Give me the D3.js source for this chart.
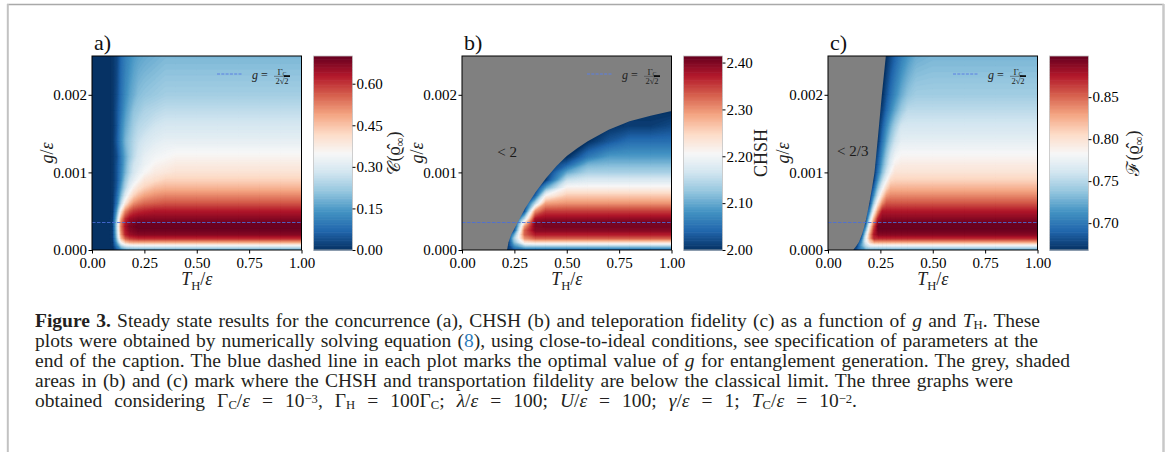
<!DOCTYPE html>
<html>
<head>
<meta charset="utf-8">
<script src="https://cdn.jsdelivr.net/npm/d3@7/dist/d3.min.js"></script>
<style>
  body { margin: 0; background: #fff; }
</style>
</head>
<body>
<svg id="SVG_CONTAINER" width="1167" height="452"></svg>
<script>
const _ = null; // cell below the classical limit (drawn grey)

// rows of every grid: g / eps
const gRows = [0, 0.00005, 0.0001, 0.00015, 0.0002, 0.00025, 0.0003, 0.00035, 0.0004, 0.0005, 0.0006,
               0.0007, 0.0008, 0.0009, 0.001, 0.0011, 0.0012, 0.0014, 0.0016, 0.0018, 0.002, 0.0025];

// a) concurrence, columns T_H / eps
const concT = [0, 0.05, 0.08, 0.10, 0.12, 0.14, 0.16, 0.18, 0.20, 0.22, 0.25, 0.30, 0.35, 0.40, 0.50, 0.60, 0.70, 0.80, 0.90, 1.00];
const concValues = [
  [0, 0, 0, 0,    0.05, 0.11, 0.14, 0.15, 0.15, 0.15, 0.15, 0.15, 0.15, 0.15, 0.15, 0.15, 0.15, 0.15, 0.15, 0.15],
  [0, 0, 0, 0.01, 0.11, 0.23, 0.28, 0.29, 0.30, 0.30, 0.30, 0.30, 0.30, 0.30, 0.30, 0.30, 0.30, 0.30, 0.30, 0.30],
  [0, 0, 0, 0.01, 0.17, 0.36, 0.44, 0.47, 0.48, 0.48, 0.48, 0.48, 0.48, 0.48, 0.48, 0.48, 0.48, 0.48, 0.48, 0.48],
  [0, 0, 0, 0.02, 0.21, 0.46, 0.56, 0.59, 0.60, 0.61, 0.61, 0.61, 0.61, 0.61, 0.61, 0.61, 0.61, 0.61, 0.61, 0.61],
  [0, 0, 0, 0.02, 0.23, 0.50, 0.62, 0.65, 0.66, 0.67, 0.67, 0.67, 0.67, 0.67, 0.67, 0.67, 0.67, 0.67, 0.67, 0.67],
  [0, 0, 0, 0.02, 0.24, 0.52, 0.63, 0.67, 0.68, 0.69, 0.69, 0.69, 0.69, 0.69, 0.69, 0.69, 0.69, 0.69, 0.69, 0.69],
  [0, 0, 0, 0.02, 0.25, 0.53, 0.64, 0.68, 0.69, 0.70, 0.70, 0.70, 0.70, 0.70, 0.70, 0.70, 0.70, 0.70, 0.70, 0.70],
  [0, 0, 0, 0.02, 0.24, 0.52, 0.63, 0.67, 0.68, 0.69, 0.69, 0.69, 0.69, 0.69, 0.69, 0.69, 0.69, 0.69, 0.69, 0.69],
  [0, 0, 0, 0.02, 0.22, 0.49, 0.61, 0.65, 0.66, 0.67, 0.67, 0.67, 0.67, 0.67, 0.67, 0.67, 0.67, 0.67, 0.67, 0.67],
  [0, 0, 0, 0.01, 0.16, 0.38, 0.52, 0.57, 0.60, 0.61, 0.62, 0.63, 0.63, 0.63, 0.63, 0.63, 0.63, 0.63, 0.63, 0.63],
  [0, 0, 0, 0.01, 0.10, 0.26, 0.39, 0.46, 0.51, 0.53, 0.55, 0.56, 0.57, 0.57, 0.57, 0.57, 0.57, 0.57, 0.57, 0.57],
  [0, 0, 0, 0.01, 0.08, 0.20, 0.31, 0.38, 0.43, 0.46, 0.49, 0.51, 0.52, 0.52, 0.52, 0.52, 0.52, 0.52, 0.52, 0.52],
  [0, 0, 0, 0.01, 0.06, 0.16, 0.25, 0.32, 0.37, 0.40, 0.43, 0.46, 0.47, 0.47, 0.47, 0.47, 0.47, 0.47, 0.47, 0.47],
  [0, 0, 0, 0.01, 0.05, 0.13, 0.22, 0.28, 0.32, 0.35, 0.39, 0.41, 0.43, 0.43, 0.43, 0.43, 0.43, 0.43, 0.43, 0.43],
  [0, 0, 0, 0.01, 0.05, 0.12, 0.19, 0.25, 0.29, 0.32, 0.35, 0.38, 0.39, 0.40, 0.40, 0.40, 0.40, 0.40, 0.40, 0.40],
  [0, 0, 0, 0.01, 0.05, 0.11, 0.18, 0.24, 0.28, 0.30, 0.33, 0.36, 0.37, 0.38, 0.38, 0.38, 0.38, 0.38, 0.38, 0.38],
  [0, 0, 0, 0.01, 0.04, 0.11, 0.17, 0.22, 0.26, 0.29, 0.32, 0.34, 0.35, 0.36, 0.36, 0.36, 0.36, 0.36, 0.36, 0.36],
  [0, 0, 0, 0.01, 0.06, 0.13, 0.19, 0.22, 0.25, 0.27, 0.29, 0.31, 0.32, 0.32, 0.32, 0.32, 0.32, 0.32, 0.32, 0.32],
  [0, 0, 0, 0.01, 0.05, 0.12, 0.17, 0.20, 0.23, 0.25, 0.26, 0.28, 0.29, 0.29, 0.29, 0.29, 0.29, 0.29, 0.29, 0.29],
  [0, 0, 0, 0.01, 0.05, 0.10, 0.15, 0.18, 0.21, 0.22, 0.24, 0.25, 0.26, 0.26, 0.26, 0.26, 0.26, 0.26, 0.26, 0.26],
  [0, 0, 0, 0.01, 0.04, 0.09, 0.13, 0.16, 0.18, 0.20, 0.21, 0.22, 0.23, 0.23, 0.23, 0.23, 0.23, 0.23, 0.23, 0.23],
  [0, 0, 0, 0.01, 0.03, 0.08, 0.11, 0.13, 0.15, 0.16, 0.17, 0.18, 0.19, 0.19, 0.19, 0.19, 0.19, 0.19, 0.19, 0.19]
];

// b) CHSH
const chshT = [0, 0.05, 0.08, 0.10, 0.12, 0.14, 0.16, 0.18, 0.20, 0.22, 0.25, 0.30, 0.35, 0.40, 0.50, 0.60, 0.70, 0.80, 0.90, 1.00];
const chshValues = [
  [_, _, _, _, _, _, _, _, _, 2.01, 2.03, 2.04, 2.04, 2.04, 2.04, 2.04, 2.04, 2.04, 2.04, 2.04],
  [_, _, _, _, _, _, _, _, _, 2.01, 2.08, 2.13, 2.13, 2.13, 2.13, 2.13, 2.13, 2.13, 2.13, 2.13],
  [_, _, _, _, _, _, _, _, _, _, 2.12, 2.23, 2.24, 2.24, 2.24, 2.24, 2.24, 2.24, 2.24, 2.24],
  [_, _, _, _, _, _, _, _, _, _, 2.14, 2.30, 2.33, 2.33, 2.33, 2.33, 2.33, 2.33, 2.33, 2.33],
  [_, _, _, _, _, _, _, _, _, _, 2.10, 2.33, 2.37, 2.37, 2.37, 2.37, 2.37, 2.37, 2.37, 2.37],
  [_, _, _, _, _, _, _, _, _, _, 2.03, 2.33, 2.395, 2.395, 2.395, 2.395, 2.395, 2.395, 2.395, 2.395],
  [_, _, _, _, _, _, _, _, _, _, _, 2.30, 2.40, 2.405, 2.405, 2.405, 2.405, 2.405, 2.405, 2.405],
  [_, _, _, _, _, _, _, _, _, _, _, 2.24, 2.40, 2.405, 2.405, 2.405, 2.405, 2.405, 2.405, 2.405],
  [_, _, _, _, _, _, _, _, _, _, _, 2.16, 2.38, 2.39, 2.39, 2.39, 2.39, 2.39, 2.39, 2.39],
  [_, _, _, _, _, _, _, _, _, _, _, 2.03, 2.30, 2.35, 2.35, 2.35, 2.35, 2.35, 2.35, 2.35],
  [_, _, _, _, _, _, _, _, _, _, _, _, 2.15, 2.29, 2.30, 2.30, 2.30, 2.30, 2.30, 2.30],
  [_, _, _, _, _, _, _, _, _, _, _, _, 2.04, 2.21, 2.26, 2.26, 2.26, 2.26, 2.26, 2.26],
  [_, _, _, _, _, _, _, _, _, _, _, _, _, 2.10, 2.215, 2.215, 2.215, 2.215, 2.215, 2.215],
  [_, _, _, _, _, _, _, _, _, _, _, _, _, 2.01, 2.16, 2.175, 2.175, 2.175, 2.175, 2.175],
  [_, _, _, _, _, _, _, _, _, _, _, _, _, _, 2.10, 2.14, 2.14, 2.14, 2.14, 2.14],
  [_, _, _, _, _, _, _, _, _, _, _, _, _, _, 2.04, 2.11, 2.115, 2.115, 2.115, 2.115],
  [_, _, _, _, _, _, _, _, _, _, _, _, _, _, 2.00, 2.06, 2.09, 2.09, 2.09, 2.09],
  [_, _, _, _, _, _, _, _, _, _, _, _, _, _, _, 2.00, 2.03, 2.05, 2.05, 2.05],
  [_, _, _, _, _, _, _, _, _, _, _, _, _, _, _, _, _, 2.01, 2.01, 2.02],
  [_, _, _, _, _, _, _, _, _, _, _, _, _, _, _, _, _, _, _, _],
  [_, _, _, _, _, _, _, _, _, _, _, _, _, _, _, _, _, _, _, _],
  [_, _, _, _, _, _, _, _, _, _, _, _, _, _, _, _, _, _, _, _]
];
const chshLimitT = [0.215, 0.222, 0.235, 0.255, 0.28, 0.30, 0.35, 0.40, 0.45, 0.50, 0.55, 0.60, 0.70, 0.80, 0.90, 1.00];
const chshLimitG = [0, 0.0001, 0.0002, 0.0003, 0.00043, 0.00053, 0.00074, 0.00092, 0.00108, 0.00121, 0.00131, 0.0014, 0.00155, 0.00166, 0.00173, 0.00179];

// c) teleportation fidelity
const fidT = [0, 0.10, 0.12, 0.14, 0.16, 0.18, 0.20, 0.22, 0.24, 0.26, 0.28, 0.30, 0.32, 0.35, 0.38, 0.42, 0.50, 0.65, 0.80, 1.00];
const fidValues = [
  [_, _, 0.667, 0.689, 0.706, 0.717, 0.717, 0.717, 0.717, 0.717, 0.717, 0.717, 0.717, 0.717, 0.717, 0.717, 0.717, 0.717, 0.717, 0.717],
  [_, _, _, 0.679, 0.72, 0.75, 0.766, 0.766, 0.766, 0.766, 0.766, 0.766, 0.766, 0.766, 0.766, 0.766, 0.766, 0.766, 0.766, 0.766],
  [_, _, _, _, 0.711, 0.768, 0.808, 0.826, 0.826, 0.826, 0.826, 0.826, 0.826, 0.826, 0.826, 0.826, 0.826, 0.826, 0.826, 0.826],
  [_, _, _, _, 0.69, 0.768, 0.828, 0.869, 0.869, 0.869, 0.869, 0.869, 0.869, 0.869, 0.869, 0.869, 0.869, 0.869, 0.869, 0.869],
  [_, _, _, _, _, 0.751, 0.824, 0.876, 0.889, 0.889, 0.889, 0.889, 0.889, 0.889, 0.889, 0.889, 0.889, 0.889, 0.889, 0.889],
  [_, _, _, _, _, 0.726, 0.808, 0.868, 0.896, 0.896, 0.896, 0.896, 0.896, 0.896, 0.896, 0.896, 0.896, 0.896, 0.896, 0.896],
  [_, _, _, _, _, 0.703, 0.791, 0.858, 0.899, 0.899, 0.899, 0.899, 0.899, 0.899, 0.899, 0.899, 0.899, 0.899, 0.899, 0.899],
  [_, _, _, _, _, 0.677, 0.77, 0.841, 0.89, 0.896, 0.896, 0.896, 0.896, 0.896, 0.896, 0.896, 0.896, 0.896, 0.896, 0.896],
  [_, _, _, _, _, _, 0.75, 0.824, 0.875, 0.889, 0.889, 0.889, 0.889, 0.889, 0.889, 0.889, 0.889, 0.889, 0.889, 0.889],
  [_, _, _, _, _, _, 0.71, 0.782, 0.837, 0.876, 0.876, 0.876, 0.876, 0.876, 0.876, 0.876, 0.876, 0.876, 0.876, 0.876],
  [_, _, _, _, _, _, 0.678, 0.745, 0.798, 0.838, 0.856, 0.856, 0.856, 0.856, 0.856, 0.856, 0.856, 0.856, 0.856, 0.856],
  [_, _, _, _, _, _, _, 0.715, 0.765, 0.805, 0.834, 0.839, 0.839, 0.839, 0.839, 0.839, 0.839, 0.839, 0.839, 0.839],
  [_, _, _, _, _, _, _, 0.693, 0.74, 0.777, 0.807, 0.823, 0.823, 0.823, 0.823, 0.823, 0.823, 0.823, 0.823, 0.823],
  [_, _, _, _, _, _, _, 0.676, 0.718, 0.754, 0.782, 0.806, 0.809, 0.809, 0.809, 0.809, 0.809, 0.809, 0.809, 0.809],
  [_, _, _, _, _, _, _, _, 0.702, 0.735, 0.763, 0.785, 0.799, 0.799, 0.799, 0.799, 0.799, 0.799, 0.799, 0.799],
  [_, _, _, _, _, _, _, _, 0.692, 0.724, 0.75, 0.772, 0.789, 0.793, 0.793, 0.793, 0.793, 0.793, 0.793, 0.793],
  [_, _, _, _, _, _, _, _, 0.686, 0.716, 0.742, 0.764, 0.78, 0.786, 0.786, 0.786, 0.786, 0.786, 0.786, 0.786],
  [_, _, _, _, _, _, _, _, 0.673, 0.70, 0.724, 0.744, 0.76, 0.773, 0.773, 0.773, 0.773, 0.773, 0.773, 0.773],
  [_, _, _, _, _, _, _, _, _, 0.688, 0.71, 0.728, 0.744, 0.762, 0.763, 0.763, 0.763, 0.763, 0.763, 0.763],
  [_, _, _, _, _, _, _, _, _, 0.676, 0.694, 0.71, 0.724, 0.741, 0.753, 0.753, 0.753, 0.753, 0.753, 0.753],
  [_, _, _, _, _, _, _, _, _, 0.669, 0.684, 0.698, 0.71, 0.726, 0.737, 0.743, 0.743, 0.743, 0.743, 0.743],
  [_, _, _, _, _, _, _, _, _, _, 0.669, 0.68, 0.69, 0.704, 0.715, 0.726, 0.73, 0.73, 0.73, 0.73]
];
const fidLimitT = [0.12, 0.135, 0.147, 0.162, 0.173, 0.182, 0.197, 0.21, 0.222, 0.24, 0.257, 0.276];
const fidLimitG = [0, 0.00005, 0.0001, 0.0002, 0.0003, 0.0004, 0.0006, 0.0008, 0.001, 0.0015, 0.002, 0.0025];

const gOptimal = 0.000354; // g = Gamma_C / (2 sqrt 2)
const xTicks = [0, 0.25, 0.5, 0.75, 1];
const yTicks = [0, 0.001, 0.002];
const concTicks = [0, 0.15, 0.30, 0.45, 0.60];
const chshTicks = [2.0, 2.1, 2.2, 2.3, 2.4];
const fidTicks = [0.70, 0.75, 0.80, 0.85];
const concRange = [0, 0.70], chshRange = [2.0, 2.414], fidRange = [0.668, 0.899];

const width = 1167, height = 452;
const PLOT = { TOP: 56, BOTTOM: 250, W: 209.5 };
const LEVELS = 120;
const SERIF = "'Liberation Serif', 'DejaVu Serif', serif";

const svg = d3.select("#SVG_CONTAINER");
svg.append("rect").attr("width", width).attr("height", height).attr("fill", "#fff");

// page frame
svg.append("line").attr("x1", 7).attr("x2", 1164).attr("y1", 4.5).attr("y2", 4.5).attr("stroke", "#a9a9a9").attr("stroke-width", 1.3);
svg.append("line").attr("x1", 7.8).attr("x2", 7.8).attr("y1", 4).attr("y2", height).attr("stroke", "#c2c2c2").attr("stroke-width", 2);
svg.append("line").attr("x1", 1163.5).attr("x2", 1163.5).attr("y1", 4).attr("y2", height).attr("stroke", "#c8c8c8").attr("stroke-width", 2.5);

const rdbu = d3.schemeRdBu[11].slice().reverse();

function mathText(sel, parts, size) {
  let shift = 0;
  parts.forEach(function (p) {
    const ts = sel.append("tspan").text(p[0]);
    const want = p[1] === "sub" ? size * 0.25 : 0;
    if (want - shift !== 0) ts.attr("dy", want - shift);
    shift = want;
    if (p[1] === "sub") ts.attr("font-size", size * 0.7);
    if (p[1] === "i") ts.attr("font-style", "italic");
  });
  return sel;
}

const panels = [
  { left: 92, tag: "a)", cols: concT, values: concValues, range: concRange, ticks: concTicks, cbOff: 41,
    label: [["\u{1D49E}", ""], ["(\u03F1\u0302", ""], ["\u221E", "sub"], [")", ""]] },
  { left: 462, tag: "b)", cols: chshT, values: chshValues, range: chshRange, ticks: chshTicks, cbOff: 38,
    label: [["CHSH", ""]], limitT: chshLimitT, limitG: chshLimitG, note: ["< 2", 0.215, 0.00126] },
  { left: 828, tag: "c)", cols: fidT, values: fidValues, range: fidRange, ticks: fidTicks, cbOff: 44,
    label: [["\u2131", ""], ["(\u03F1\u0302", ""], ["\u221E", "sub"], [")", ""]], limitT: fidLimitT, limitG: fidLimitG, note: ["< 2/3", 0.118, 0.00128] }
];

panels.forEach(function (p, pi) {
  const x = d3.scaleLinear().domain([0, 1]).range([p.left, p.left + PLOT.W]);
  const y = d3.scaleLinear().domain([0, 0.0025]).range([PLOT.BOTTOM, PLOT.TOP]);
  const color = d3.scaleLinear()
    .domain(d3.range(11).map(i => p.range[0] + (p.range[1] - p.range[0]) * i / 10))
    .range(rdbu).clamp(true);

  const chart = svg.append("g").attr("class", "panel");
  const clipId = "clip" + pi;
  chart.append("clipPath").attr("id", clipId).append("rect")
    .attr("x", x(0)).attr("y", y(0.0025)).attr("width", x(1) - x(0)).attr("height", y(0) - y(0.0025));

  // grid index -> data value (each value sits at a cell centre)
  const nx = p.cols.length, ny = gRows.length;
  const colAt = d3.scaleLinear()
    .domain([0].concat(d3.range(nx).map(i => i + 0.5), [nx]))
    .range([p.cols[0]].concat(p.cols, [p.cols[nx - 1]]));
  const rowAt = d3.scaleLinear()
    .domain([0].concat(d3.range(ny).map(i => i + 0.5), [ny]))
    .range([gRows[0]].concat(gRows, [gRows[ny - 1]]));

  const flat = [];
  p.values.forEach(row => row.forEach(v => flat.push(v == null ? p.range[0] : v)));
  const step = (p.range[1] - p.range[0]) / LEVELS;
  const thresholds = d3.range(LEVELS).map(i => p.range[0] + i * step);
  const contours = d3.contours().size([nx, ny]).thresholds(thresholds)(flat);
  const proj = d3.geoTransform({
    point: function (px, py) { this.stream.point(x(colAt(px)), y(rowAt(py))); }
  });
  const path = d3.geoPath(proj);

  const heat = chart.append("g").attr("clip-path", "url(#" + clipId + ")");
  heat.selectAll("path.level")
    .data(contours)
    .enter()
    .append("path")
    .attr("class", "level")
    .attr("d", path)
    .attr("fill", d => color(d.value + step / 2))
    .attr("stroke", d => color(d.value + step / 2))
    .attr("stroke-width", 0.3);

  // grey area below the classical limit
  if (p.limitT) {
    const pts = [[0, 0]].concat(p.limitT.map((t, i) => [t, p.limitG[i]]));
    pts.push([p.limitT[p.limitT.length - 1], 0.0025], [0, 0.0025]);
    heat.append("path")
      .attr("d", d3.line().x(d => x(d[0])).y(d => y(d[1]))(pts) + "Z")
      .attr("fill", "#808080");
    chart.append("text")
      .attr("x", x(p.note[1])).attr("y", y(p.note[2]))
      .attr("dy", "0.35em").attr("text-anchor", "middle")
      .attr("font-family", SERIF).attr("font-size", 15).attr("fill", "#1a1a1a")
      .text(p.note[0]);
  }

  // optimal coupling line
  heat.append("line")
    .attr("x1", x(0)).attr("x2", x(1)).attr("y1", y(gOptimal)).attr("y2", y(gOptimal))
    .attr("stroke", "#4a6fdc").attr("stroke-width", 1).attr("stroke-dasharray", "3.5,1.5").attr("opacity", 0.85);

  // legend
  const lg = chart.append("g").attr("transform", "translate(" + p.left + ",0)");
  lg.append("line").attr("x1", 125).attr("x2", 150).attr("y1", 74).attr("y2", 74)
    .attr("stroke", "#5a7fe3").attr("stroke-width", 1).attr("stroke-dasharray", "3,1.3");
  const lt = lg.append("text").attr("x", 160).attr("y", 79).attr("font-family", SERIF).attr("font-size", 12).attr("fill", "#222");
  lt.append("tspan").attr("font-style", "italic").text("g");
  lt.append("tspan").text(" =");
  const num = lg.append("text").attr("x", 190).attr("y", 74.5).attr("text-anchor", "middle")
    .attr("font-family", SERIF).attr("font-size", 9).attr("fill", "#222");
  num.append("tspan").text("\u0393");
  num.append("tspan").attr("font-size", 6).attr("dy", 1.5).text("C");
  lg.append("line").attr("x1", 182).attr("x2", 198).attr("y1", 76.3).attr("y2", 76.3).attr("stroke", "#444").attr("stroke-width", 0.6);
  lg.append("line").attr("x1", 192).attr("x2", 198).attr("y1", 76.1).attr("y2", 76.1).attr("stroke", "#000").attr("stroke-width", 1.6);
  lg.append("text").attr("x", 190).attr("y", 84).attr("text-anchor", "middle")
    .attr("font-family", SERIF).attr("font-size", 8.5).attr("fill", "#222").text("2\u221A2");

  // frame
  chart.append("rect")
    .attr("x", x(0)).attr("y", y(0.0025)).attr("width", x(1) - x(0)).attr("height", y(0) - y(0.0025))
    .attr("fill", "none").attr("stroke", "#000").attr("stroke-width", 1);

  // axes
  const xAxis = d3.axisBottom(x).tickValues(xTicks).tickFormat(d3.format(".2f")).tickSize(3.5).tickPadding(4);
  chart.append("g")
    .attr("transform", "translate(0," + PLOT.BOTTOM + ")")
    .call(xAxis)
    .call(g => g.select(".domain").remove())
    .attr("font-family", SERIF).attr("font-size", 15);
  const yAxis = d3.axisLeft(y).tickValues(yTicks).tickFormat(d3.format(".3f")).tickSize(3.5).tickPadding(1.5);
  chart.append("g")
    .attr("transform", "translate(" + p.left + ",0)")
    .call(yAxis)
    .call(g => g.select(".domain").remove())
    .attr("font-family", SERIF).attr("font-size", 15);

  // axis labels
  const xl = chart.append("text")
    .attr("x", (x(0) + x(1)) / 2).attr("y", 285).attr("text-anchor", "middle")
    .attr("font-family", SERIF).attr("font-size", 18).attr("fill", "#222");
  mathText(xl, [["T", "i"], ["H", "sub"], ["/", ""], ["\u03B5", "i"]], 18);
  const yl = chart.append("text")
    .attr("transform", "translate(" + (p.left - 45) + ",153) rotate(-90)")
    .attr("text-anchor", "middle").attr("dy", "0.35em")
    .attr("font-family", SERIF).attr("font-size", 18).attr("fill", "#222");
  mathText(yl, [["g", "i"], ["/", ""], ["\u03B5", "i"]], 18);

  chart.append("text")
    .attr("x", p.left + 2).attr("y", 50)
    .attr("font-family", SERIF).attr("font-size", 22).attr("fill", "#111")
    .text(p.tag);

  // colorbar
  const cbX = x(1) + 12, cbW = 39;
  const cb = d3.scaleLinear().domain(p.range).range([PLOT.BOTTOM, PLOT.TOP]);
  chart.append("g").selectAll("rect")
    .data(thresholds)
    .enter()
    .append("rect")
    .attr("x", cbX).attr("width", cbW)
    .attr("y", d => cb(d + step))
    .attr("height", d => cb(d) - cb(d + step) + 0.6)
    .attr("fill", d => color(d + step / 2));
  chart.append("rect")
    .attr("x", cbX).attr("y", PLOT.TOP).attr("width", cbW).attr("height", PLOT.BOTTOM - PLOT.TOP)
    .attr("fill", "none").attr("stroke", "#c4c4c4").attr("stroke-width", 0.8);
  const cAxis = d3.axisRight(cb).tickValues(p.ticks).tickFormat(d3.format(".2f")).tickSize(3).tickPadding(1);
  chart.append("g")
    .attr("transform", "translate(" + (cbX + cbW) + ",0)")
    .call(cAxis)
    .call(g => g.select(".domain").remove())
    .attr("font-family", SERIF).attr("font-size", 15);
  const cl = chart.append("text")
    .attr("transform", "translate(" + (cbX + cbW + p.cbOff) + ",153) rotate(-90)")
    .attr("text-anchor", "middle").attr("dy", "0.35em")
    .attr("font-family", SERIF).attr("font-size", 18).attr("fill", "#222");
  mathText(cl, p.label, 18);
});

// caption
const captionLines = [
  { y: 327, len: 1005, parts: [["Figure 3.", "b"], [" Steady state results for the concurrence (a), CHSH (b) and teleporation fidelity (c) as a function of ", ""], ["g", "i"], [" and ", ""], ["T", "i"], ["H", "sub"], [". These", ""]] },
  { y: 347, len: 1003, parts: [["plots were obtained by numerically solving equation (", ""], ["8", "link"], ["), using close-to-ideal conditions, see specification of parameters at the", ""]] },
  { y: 367, len: 1035, parts: [["end of the caption. The blue dashed line in each plot marks the optimal value of ", ""], ["g", "i"], [" for entanglement generation. The grey, shaded", ""]] },
  { y: 387, len: 978, parts: [["areas in (b) and (c) mark where the CHSH and transportation fildelity are below the classical limit. The three graphs were", ""]] },
  { y: 407, len: 822, parts: [["obtained considering \u0393", ""], ["C", "sub"], ["/", ""], ["\u03B5", "i"], [" = 10", ""], ["\u22123", "sup"], [", \u0393", ""], ["H", "sub"], [" = 100\u0393", ""], ["C", "sub"],
      ["; ", ""], ["\u03BB", "i"], ["/", ""], ["\u03B5", "i"], [" = 100; ", ""], ["U", "i"], ["/", ""], ["\u03B5", "i"], [" = 100; ", ""], ["\u03B3", "i"], ["/", ""], ["\u03B5", "i"],
      [" = 1; ", ""], ["T", "i"], ["C", "sub"], ["/", ""], ["\u03B5", "i"], [" = 10", ""], ["\u22122", "sup"], [".", ""]] }
];
const BASE = 18;
const captions = captionLines.map(function (line) {
  const t = svg.append("text")
    .attr("x", 35).attr("y", line.y)
    .attr("font-family", SERIF).attr("font-size", BASE).attr("fill", "#231f20");
  let shift = 0;
  line.parts.forEach(function (p) {
    const ts = t.append("tspan").text(p[0]);
    const want = p[1] === "sub" ? 2 : p[1] === "sup" ? -4.5 : 0;
    if (want - shift !== 0) ts.attr("dy", want - shift);
    shift = want;
    if (p[1] === "sub" || p[1] === "sup") ts.attr("font-size", "65%");
    if (p[1] === "i") ts.attr("font-style", "italic");
    if (p[1] === "b") ts.attr("font-weight", "bold");
    if (p[1] === "link") ts.attr("fill", "#2b7bba");
  });
  return t;
});
// one font size for the whole caption; the rest of each line's width goes into the word gaps
const fit = d3.median(captions.slice(0, 4), (t, i) => captionLines[i].len / t.node().getComputedTextLength());
captions.forEach(function (t, i) {
  t.attr("font-size", BASE * fit * 0.97);
  const natural = t.node().getComputedTextLength();
  const gaps = captionLines[i].parts.map(p => p[0]).join("").split(" ").length - 1;
  const extra = (captionLines[i].len - natural) / gaps;
  if (extra > 0) t.style("word-spacing", extra + "px");
});
</script>
</body>
</html>
